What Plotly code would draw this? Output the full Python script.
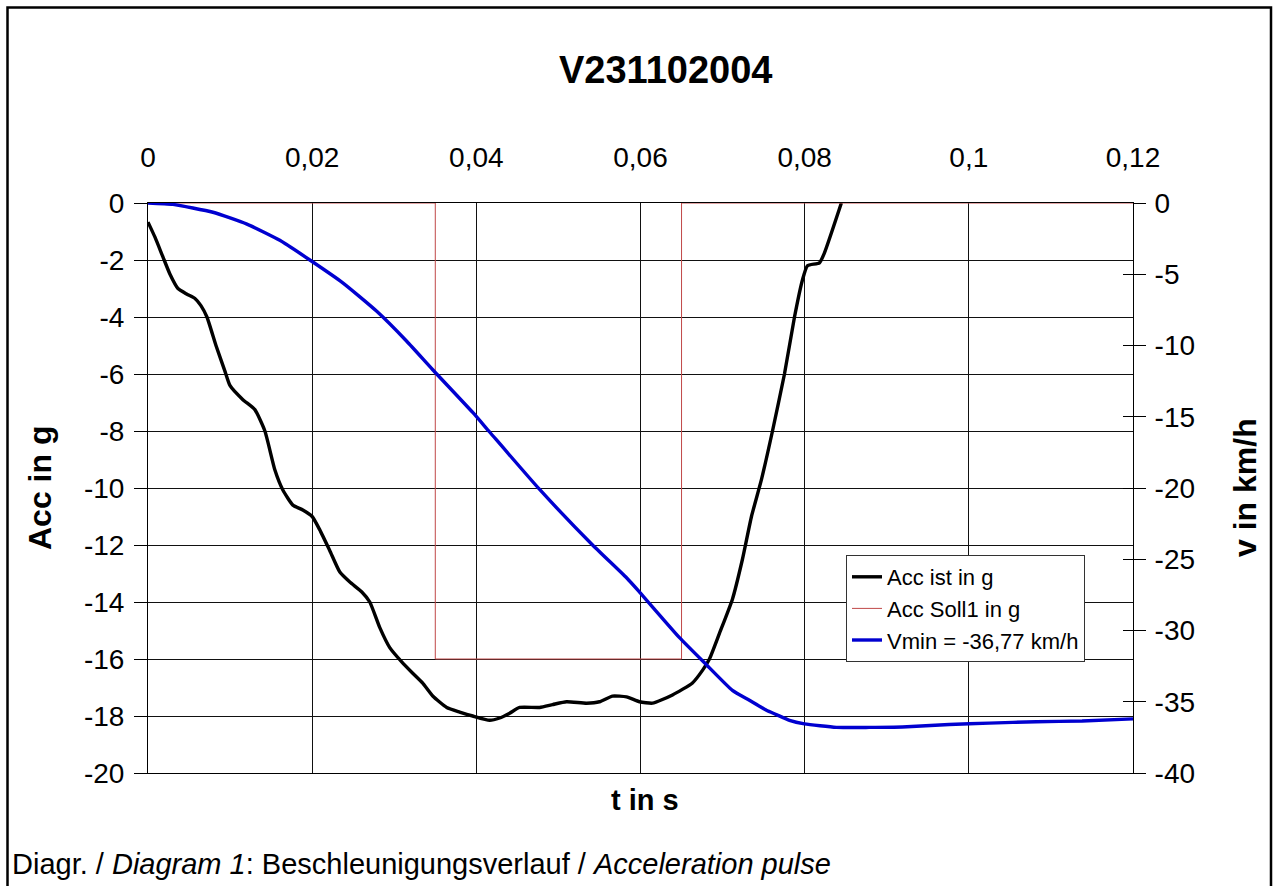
import plotly.graph_objects as go

# ---------------- data ----------------
t_acc = [0.0, 0.00085, 0.00183, 0.00268, 0.00365, 0.00475, 0.00572, 0.00645, 0.00718,
         0.00828, 0.00937, 0.00998, 0.01156, 0.01302, 0.01424, 0.01546, 0.01643, 0.01765,
         0.01886, 0.0200, 0.02093, 0.02215, 0.02337, 0.02459, 0.02605, 0.02702, 0.02824,
         0.02945, 0.03091, 0.03225, 0.03347, 0.03469, 0.03639, 0.03797, 0.03956, 0.04162,
         0.04284, 0.04406, 0.04527, 0.04771, 0.04929, 0.05099, 0.05343, 0.05501, 0.05659,
         0.05830, 0.05988, 0.06146, 0.06390, 0.06633, 0.06755, 0.06840, 0.06962, 0.07120,
         0.07242, 0.07352, 0.07474, 0.07608, 0.07754, 0.07876, 0.07973, 0.08034, 0.08180,
         0.08241, 0.08447]
acc_ist = [-0.67, -1.2, -1.9, -2.5, -3.0, -3.2, -3.35, -3.6, -4.0,
           -5.0, -5.9, -6.4, -6.9, -7.25, -8.0, -9.37, -10.07, -10.6,
           -10.77, -11.0, -11.47, -12.2, -12.95, -13.3, -13.65, -14.0, -14.9,
           -15.6, -16.1, -16.5, -16.85, -17.3, -17.7, -17.86, -18.0, -18.15,
           -18.07, -17.9, -17.7, -17.7, -17.6, -17.5, -17.55, -17.5, -17.3,
           -17.33, -17.5, -17.55, -17.26, -16.84, -16.4, -16.0, -15.1, -13.9,
           -12.5, -11.0, -9.7, -8.0, -6.0, -4.0, -2.7, -2.2, -2.1,
           -1.75, 0.0]

t_soll = [0.0, 0.035, 0.035, 0.065, 0.065, 0.12]
acc_soll = [0, 0, -16, -16, 0, 0]

t_v = [0.0, 0.00304, 0.00791, 0.01205, 0.01606, 0.01972, 0.02373, 0.02787, 0.03152,
       0.03469, 0.03956, 0.04162, 0.04771, 0.05416, 0.05830, 0.05988, 0.06475, 0.06803,
       0.07120, 0.07327, 0.07534, 0.07655, 0.07815, 0.07997, 0.08386, 0.08787, 0.09189,
       0.09761, 0.10248, 0.10820, 0.11380, 0.12]
v_kmh = [0.0, -0.1, -0.65, -1.48, -2.62, -4.0, -5.6, -7.6, -9.7,
         -11.7, -14.7, -16.07, -20.1, -24.0, -26.3, -27.3, -30.5, -32.4,
         -34.2, -34.9, -35.6, -35.9, -36.3, -36.55, -36.8, -36.8, -36.77,
         -36.6, -36.5, -36.4, -36.35, -36.2]

x_ticks = [0, 0.02, 0.04, 0.06, 0.08, 0.1, 0.12]
acc_ticks = [0, -2, -4, -6, -8, -10, -12, -14, -16, -18, -20]
v_ticks = [0, -5, -10, -15, -20, -25, -30, -35, -40]

title = "V231102004"
caption = "Diagr. / <i>Diagram 1</i>: Beschleunigungsverlauf / <i>Acceleration pulse</i>"

# ---------------- layout geometry (pixels) ----------------
WIDTH, HEIGHT = 1274, 886
L, R, T, B = 148, 1133, 203, 773
PW, PH = R - L, B - T


def px(x):
    return (x - L) / PW


def py(y):
    return (B - y) / PH


FONT = "Liberation Sans, Arial, sans-serif"
TICK = 28

fig = go.Figure()
fig.add_trace(go.Scatter(x=t_acc, y=acc_ist, mode="lines", name="Acc ist in g",
                         line=dict(color="black", width=3.4, shape="spline", smoothing=0.5),
                         xaxis="x", yaxis="y"))
fig.add_trace(go.Scatter(x=t_soll, y=acc_soll, mode="lines", name="Acc Soll1 in g",
                         line=dict(color="#c04848", width=1),
                         xaxis="x", yaxis="y"))
fig.add_trace(go.Scatter(x=t_v, y=v_kmh, mode="lines", name="Vmin = -36,77 km/h",
                         line=dict(color="#0000d0", width=3.4, shape="spline", smoothing=0.5),
                         xaxis="x", yaxis="y2"))
# dummy trace to activate yaxis3 (inside ticks on the right axis)
fig.add_trace(go.Scatter(x=[None], y=[None], xaxis="x", yaxis="y3",
                         showlegend=False, hoverinfo="skip"))

fig.update_layout(
    width=WIDTH, height=HEIGHT,
    margin=dict(l=L, r=WIDTH - R, t=T, b=HEIGHT - B, pad=0),
    paper_bgcolor="white", plot_bgcolor="white",
    separators=",.",
    font=dict(family=FONT, color="black", size=20),
    showlegend=True,
    xaxis=dict(side="top", range=[0, 0.12], tickvals=x_ticks,
               showgrid=True, gridcolor="#111", gridwidth=1,
               showline=True, linecolor="black", linewidth=1, mirror=True,
               ticks="", ticklabelstandoff=24, zeroline=False,
               tickfont=dict(size=TICK, family=FONT)),
    yaxis=dict(range=[-20, 0], tickvals=acc_ticks, ticktext=[str(v) for v in acc_ticks],
               showgrid=True, gridcolor="#111", gridwidth=1,
               showline=True, linecolor="black", linewidth=1,
               ticks="outside", ticklen=13, tickcolor="black", zeroline=False,
               ticklabelstandoff=4,
               tickfont=dict(size=TICK, family=FONT)),
    yaxis2=dict(range=[-40, 0], tickvals=v_ticks, ticktext=[str(v) for v in v_ticks],
                overlaying="y", side="right",
                showgrid=False, showline=True, linecolor="black", linewidth=1,
                ticks="outside", ticklen=12, tickcolor="black", zeroline=False,
                ticklabelstandoff=3,
                tickfont=dict(size=TICK, family=FONT)),
    yaxis3=dict(range=[-40, 0], tickvals=v_ticks, overlaying="y", side="right",
                showgrid=False, showline=False, showticklabels=False,
                ticks="inside", ticklen=10, tickcolor="black", zeroline=False),
    legend=dict(x=px(846), y=py(555), xanchor="left", yanchor="top",
                bgcolor="white", bordercolor="#333", borderwidth=1,
                font=dict(size=22, family=FONT), tracegroupgap=0,
                itemwidth=30),
)

# outer frame
fig.add_shape(type="rect", xref="paper", yref="paper",
              x0=px(7.5), x1=px(1271), y0=py(900), y1=py(7.5),
              line=dict(color="black", width=2.5), fillcolor="rgba(0,0,0,0)", layer="below")

annotations = [
    dict(text=f"<b>{title}</b>", x=px(665), y=py(70), font=dict(size=38, family=FONT)),
    dict(text="<b>t in s</b>", x=px(645), y=py(800), font=dict(size=29, family=FONT)),
    dict(text="<b>Acc in g</b>", x=px(40), y=py(488), textangle=-90, font=dict(size=32, family=FONT)),
    dict(text="<b>v in km/h</b>", x=px(1245), y=py(488), textangle=-90, font=dict(size=32, family=FONT)),
    dict(text=caption, x=px(10), y=py(864), xanchor="left", font=dict(size=29, family=FONT)),
]
for a in annotations:
    a.setdefault("xanchor", "center")
    fig.add_annotation(xref="paper", yref="paper", showarrow=False, yanchor="middle", **a)

fig.write_html("out.html", config={"displayModeBar": False},
               post_script="document.body.style.margin='0px';")
